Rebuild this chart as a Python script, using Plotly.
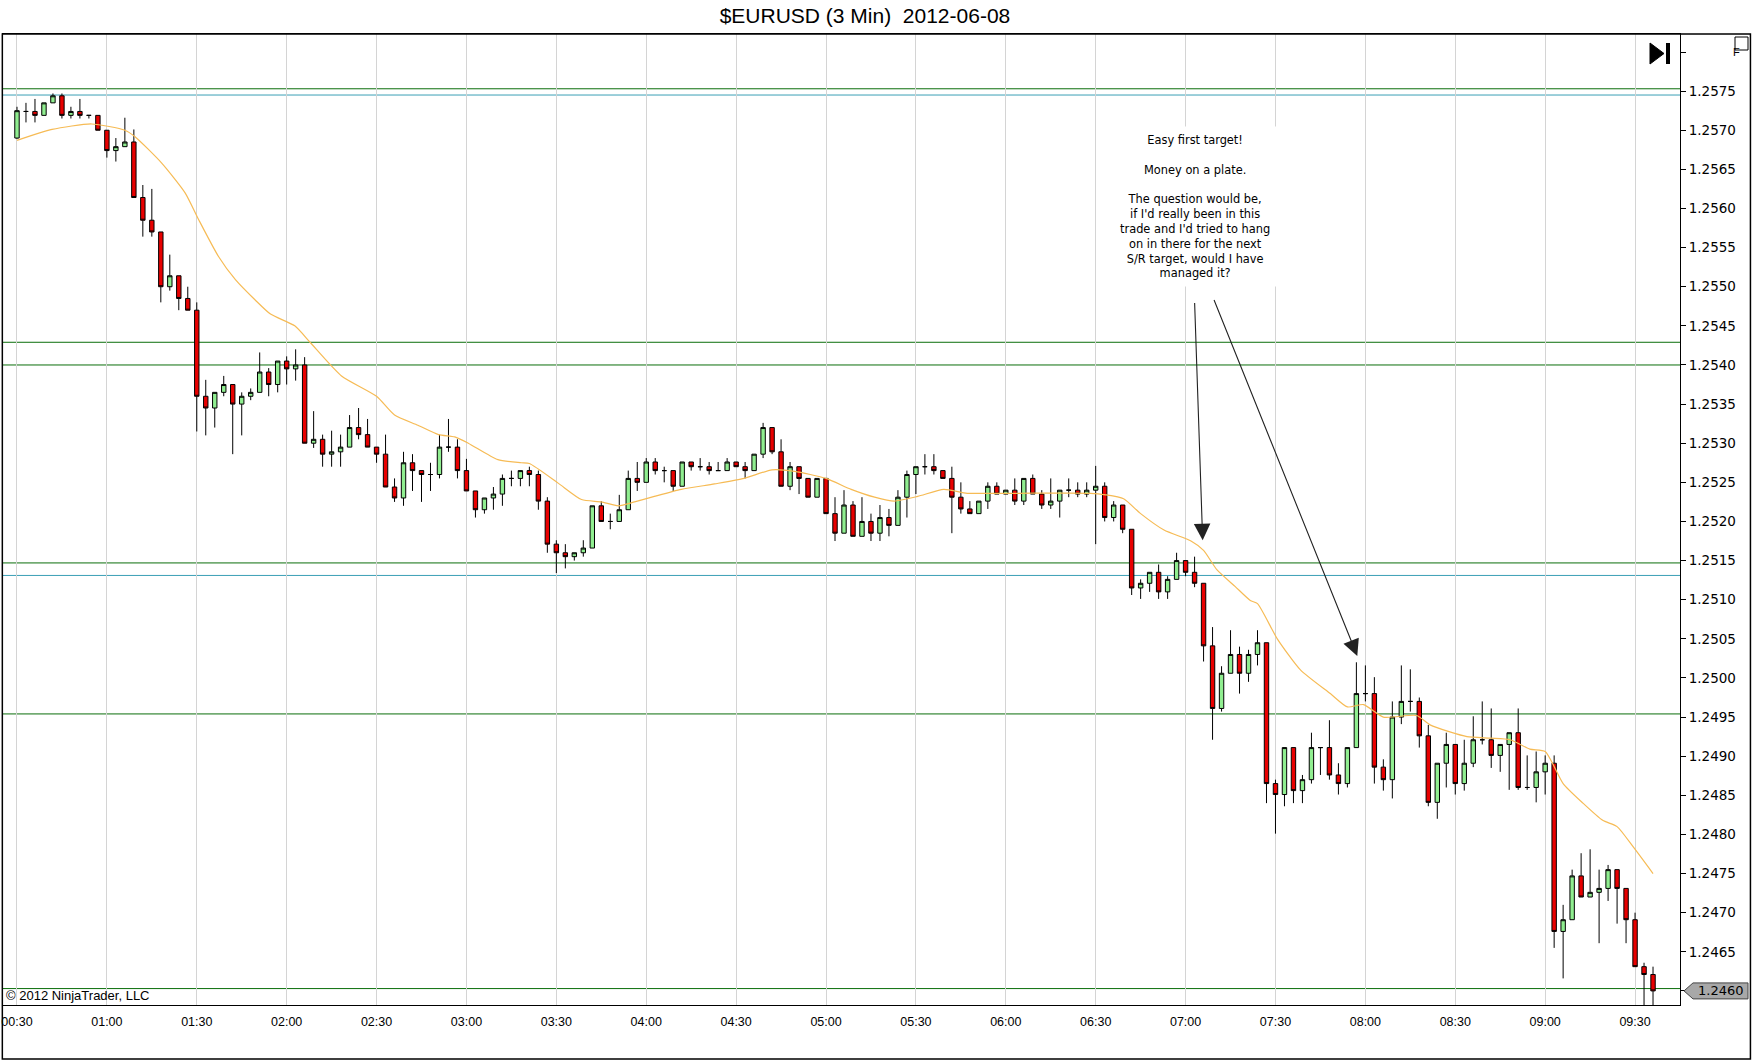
import pandas as pd
import plotly.graph_objects as go

# $EURUSD 3 min bars, 2012-06-08, starting 00:30
start_time = "2012-06-08 00:30"

opens = [1.25690, 1.25724, 1.25724, 1.25719, 1.25735, 1.25744, 1.25719, 1.25724, 1.25719, 1.25719,
         1.25700, 1.25674, 1.25679, 1.25685, 1.25614, 1.25585, 1.25570, 1.25500, 1.25514, 1.25485,
         1.25470, 1.25360, 1.25345, 1.25365, 1.25375, 1.25350, 1.25360, 1.25365, 1.25391, 1.25375,
         1.25405, 1.25395, 1.25400, 1.25300, 1.25305, 1.25286, 1.25289, 1.25295, 1.25320, 1.25311,
         1.25295, 1.25286, 1.25244, 1.25230, 1.25275, 1.25265, 1.25260, 1.25260, 1.25295, 1.25295,
         1.25265, 1.25239, 1.25215, 1.25230, 1.25235, 1.25255, 1.25255, 1.25265, 1.25260, 1.25226,
         1.25171, 1.25160, 1.25155, 1.25160, 1.25166, 1.25220, 1.25200, 1.25200, 1.25215, 1.25255,
         1.25250, 1.25276, 1.25265, 1.25265, 1.25245, 1.25276, 1.25270, 1.25270, 1.25265, 1.25265,
         1.25276, 1.25270, 1.25265, 1.25286, 1.25320, 1.25289, 1.25245, 1.25270, 1.25255, 1.25231,
         1.25255, 1.25210, 1.25185, 1.25221, 1.25181, 1.25200, 1.25185, 1.25205, 1.25195, 1.25231,
         1.25260, 1.25270, 1.25270, 1.25265, 1.25255, 1.25231, 1.25216, 1.25210, 1.25226, 1.25245,
         1.25235, 1.25240, 1.25226, 1.25255, 1.25235, 1.25221, 1.25226, 1.25240, 1.25240, 1.25235,
         1.25240, 1.25245, 1.25205, 1.25221, 1.25190, 1.25115, 1.25121, 1.25135, 1.25110, 1.25126,
         1.25150, 1.25135, 1.25121, 1.25041, 1.24961, 1.25006, 1.25030, 1.25006, 1.25030, 1.25045,
         1.24865, 1.24851, 1.24911, 1.24856, 1.24870, 1.24911, 1.24911, 1.24876, 1.24865, 1.24911,
         1.24980, 1.24980, 1.24886, 1.24870, 1.24950, 1.24970, 1.24970, 1.24926, 1.24841, 1.24891,
         1.24915, 1.24865, 1.24891, 1.24921, 1.24921, 1.24901, 1.24915, 1.24930, 1.24860, 1.24860,
         1.24880, 1.24891, 1.24676, 1.24691, 1.24747, 1.24720, 1.24726, 1.24731, 1.24755, 1.24731,
         1.24691, 1.24631, 1.24621]

highs = [1.25730, 1.25735, 1.25740, 1.25735, 1.25747, 1.25747, 1.25730, 1.25740, 1.25719, 1.25719,
         1.25700, 1.25690, 1.25716, 1.25701, 1.25630, 1.25625, 1.25570, 1.25541, 1.25514, 1.25500,
         1.25480, 1.25381, 1.25365, 1.25386, 1.25375, 1.25365, 1.25370, 1.25416, 1.25396, 1.25405,
         1.25411, 1.25420, 1.25410, 1.25341, 1.25311, 1.25316, 1.25311, 1.25336, 1.25345, 1.25331,
         1.25295, 1.25311, 1.25255, 1.25289, 1.25286, 1.25265, 1.25275, 1.25311, 1.25331, 1.25305,
         1.25280, 1.25239, 1.25230, 1.25244, 1.25260, 1.25265, 1.25265, 1.25270, 1.25265, 1.25231,
         1.25176, 1.25171, 1.25160, 1.25176, 1.25220, 1.25226, 1.25210, 1.25234, 1.25265, 1.25276,
         1.25281, 1.25281, 1.25270, 1.25265, 1.25276, 1.25276, 1.25281, 1.25276, 1.25276, 1.25281,
         1.25276, 1.25276, 1.25286, 1.25326, 1.25320, 1.25305, 1.25276, 1.25270, 1.25255, 1.25255,
         1.25255, 1.25231, 1.25240, 1.25226, 1.25231, 1.25210, 1.25221, 1.25216, 1.25240, 1.25265,
         1.25270, 1.25286, 1.25286, 1.25265, 1.25270, 1.25250, 1.25226, 1.25226, 1.25250, 1.25250,
         1.25240, 1.25255, 1.25255, 1.25260, 1.25240, 1.25255, 1.25240, 1.25255, 1.25250, 1.25250,
         1.25271, 1.25250, 1.25226, 1.25221, 1.25190, 1.25126, 1.25135, 1.25145, 1.25130, 1.25160,
         1.25150, 1.25155, 1.25121, 1.25065, 1.25015, 1.25061, 1.25040, 1.25036, 1.25061, 1.25045,
         1.24870, 1.24911, 1.24911, 1.24876, 1.24930, 1.24911, 1.24946, 1.24891, 1.24911, 1.25020,
         1.25016, 1.25001, 1.24896, 1.24970, 1.25016, 1.25011, 1.24975, 1.24940, 1.24891, 1.24930,
         1.24915, 1.24921, 1.24951, 1.24970, 1.24961, 1.24915, 1.24930, 1.24961, 1.24901, 1.24906,
         1.24901, 1.24901, 1.24710, 1.24755, 1.24776, 1.24781, 1.24755, 1.24761, 1.24755, 1.24731,
         1.24700, 1.24636, 1.24631]

lows = [1.25689, 1.25710, 1.25710, 1.25719, 1.25735, 1.25715, 1.25715, 1.25715, 1.25715, 1.25700,
        1.25665, 1.25660, 1.25679, 1.25614, 1.25564, 1.25564, 1.25480, 1.25495, 1.25470, 1.25470,
        1.25315, 1.25310, 1.25320, 1.25360, 1.25286, 1.25310, 1.25355, 1.25365, 1.25360, 1.25365,
        1.25375, 1.25380, 1.25300, 1.25294, 1.25270, 1.25270, 1.25270, 1.25295, 1.25305, 1.25295,
        1.25275, 1.25244, 1.25225, 1.25220, 1.25239, 1.25225, 1.25239, 1.25255, 1.25289, 1.25255,
        1.25239, 1.25205, 1.25210, 1.25215, 1.25220, 1.25245, 1.25245, 1.25245, 1.25215, 1.25160,
        1.25134, 1.25140, 1.25150, 1.25155, 1.25166, 1.25200, 1.25190, 1.25200, 1.25215, 1.25239,
        1.25250, 1.25260, 1.25250, 1.25239, 1.25245, 1.25265, 1.25265, 1.25260, 1.25265, 1.25265,
        1.25270, 1.25255, 1.25265, 1.25281, 1.25286, 1.25245, 1.25240, 1.25235, 1.25231, 1.25231,
        1.25210, 1.25175, 1.25185, 1.25181, 1.25181, 1.25175, 1.25175, 1.25181, 1.25195, 1.25205,
        1.25235, 1.25260, 1.25260, 1.25255, 1.25185, 1.25210, 1.25210, 1.25210, 1.25216, 1.25235,
        1.25235, 1.25221, 1.25221, 1.25235, 1.25216, 1.25216, 1.25205, 1.25231, 1.25231, 1.25231,
        1.25171, 1.25200, 1.25200, 1.25185, 1.25106, 1.25101, 1.25110, 1.25101, 1.25101, 1.25126,
        1.25130, 1.25116, 1.25021, 1.24921, 1.24957, 1.25006, 1.24980, 1.24995, 1.25016, 1.24840,
        1.24801, 1.24836, 1.24840, 1.24840, 1.24865, 1.24876, 1.24870, 1.24851, 1.24860, 1.24911,
        1.24970, 1.24865, 1.24856, 1.24846, 1.24941, 1.24957, 1.24911, 1.24836, 1.24820, 1.24860,
        1.24851, 1.24856, 1.24886, 1.24915, 1.24885, 1.24880, 1.24857, 1.24857, 1.24857, 1.24841,
        1.24851, 1.24655, 1.24616, 1.24691, 1.24720, 1.24720, 1.24661, 1.24715, 1.24686, 1.24661,
        1.24631, 1.24575, 1.24582]

closes = [1.25725, 1.25724, 1.25719, 1.25735, 1.25744, 1.25719, 1.25724, 1.25719, 1.25719, 1.25700,
          1.25674, 1.25679, 1.25685, 1.25614, 1.25585, 1.25570, 1.25500, 1.25514, 1.25485, 1.25470,
          1.25360, 1.25345, 1.25365, 1.25375, 1.25350, 1.25360, 1.25365, 1.25391, 1.25375, 1.25405,
          1.25395, 1.25400, 1.25300, 1.25305, 1.25286, 1.25289, 1.25295, 1.25320, 1.25311, 1.25295,
          1.25286, 1.25244, 1.25230, 1.25275, 1.25265, 1.25260, 1.25260, 1.25295, 1.25295, 1.25265,
          1.25239, 1.25215, 1.25230, 1.25235, 1.25255, 1.25255, 1.25265, 1.25260, 1.25226, 1.25171,
          1.25160, 1.25155, 1.25160, 1.25166, 1.25220, 1.25200, 1.25200, 1.25215, 1.25255, 1.25250,
          1.25276, 1.25265, 1.25265, 1.25245, 1.25276, 1.25270, 1.25270, 1.25265, 1.25265, 1.25276,
          1.25270, 1.25265, 1.25286, 1.25320, 1.25289, 1.25245, 1.25270, 1.25255, 1.25231, 1.25255,
          1.25210, 1.25185, 1.25221, 1.25181, 1.25200, 1.25185, 1.25205, 1.25195, 1.25231, 1.25260,
          1.25270, 1.25270, 1.25265, 1.25255, 1.25231, 1.25216, 1.25210, 1.25226, 1.25245, 1.25235,
          1.25240, 1.25226, 1.25255, 1.25235, 1.25221, 1.25226, 1.25240, 1.25240, 1.25235, 1.25240,
          1.25245, 1.25205, 1.25221, 1.25190, 1.25115, 1.25121, 1.25135, 1.25110, 1.25126, 1.25150,
          1.25135, 1.25121, 1.25041, 1.24961, 1.25006, 1.25030, 1.25006, 1.25030, 1.25045, 1.24865,
          1.24851, 1.24911, 1.24856, 1.24870, 1.24911, 1.24911, 1.24876, 1.24865, 1.24911, 1.24980,
          1.24980, 1.24886, 1.24870, 1.24950, 1.24970, 1.24970, 1.24926, 1.24841, 1.24891, 1.24915,
          1.24865, 1.24891, 1.24921, 1.24921, 1.24901, 1.24915, 1.24930, 1.24860, 1.24860, 1.24880,
          1.24891, 1.24676, 1.24691, 1.24747, 1.24720, 1.24726, 1.24731, 1.24755, 1.24731, 1.24691,
          1.24631, 1.24621, 1.24600]

# moving average (bar number, price)
ema_bar = [0, 3.9, 8.3, 12, 13.1, 16.1, 18.7, 20.2, 22.4, 24.3, 26.5, 28.2, 30.9, 32.6, 36.1, 40,
           42, 44.6, 46.9, 48.7, 50.2, 53.5, 56.1, 57, 60.2, 62.8, 65, 66.9, 68.7, 70.9, 73.9, 77.6,
           80.9, 84, 86.5, 90, 92.8, 95.4, 97.6, 100.2, 103.1, 105.7, 108.7, 111.3, 119.4, 121.1,
           123.1, 125, 127.6, 130.6, 132, 133.5, 135.5, 137.2, 138, 140.2, 142.8, 146.1, 148, 149.8,
           152, 155.7, 157.2, 159.4, 161.3, 163.9, 166.1, 168.3, 170, 172, 174.2, 176.4, 178, 179.8, 182]
ema_val = [1.25687, 1.25701, 1.25708, 1.25700, 1.25692, 1.25658, 1.25620, 1.25586, 1.25539, 1.25509,
           1.25483, 1.25465, 1.25450, 1.25429, 1.25386, 1.25360, 1.25336, 1.25323, 1.25311, 1.25308,
           1.25300, 1.25279, 1.25275, 1.25274, 1.25249, 1.25228, 1.25225, 1.25220, 1.25225, 1.25232,
           1.25241, 1.25248, 1.25255, 1.25266, 1.25264, 1.25255, 1.25241, 1.25231, 1.25226, 1.25232,
           1.25241, 1.25236, 1.25236, 1.25236, 1.25236, 1.25234, 1.25229, 1.25210, 1.25189, 1.25175,
           1.25163, 1.25138, 1.25117, 1.25099, 1.25095, 1.25050, 1.25010, 1.24980, 1.24963, 1.24966,
           1.24950, 1.24952, 1.24940, 1.24931, 1.24925, 1.24923, 1.24921, 1.24909, 1.24906, 1.24865,
           1.24840, 1.24818, 1.24810, 1.24784, 1.24750]

# support / resistance lines
sr_green = [1.25753, 1.25429, 1.25400, 1.25147, 1.24954, 1.24603]
sr_teal = [1.25745, 1.25131]

price_ticks = [1.2460, 1.2465, 1.2470, 1.2475, 1.2480, 1.2485, 1.2490, 1.2495, 1.2500, 1.2505,
               1.2510, 1.2515, 1.2520, 1.2525, 1.2530, 1.2535, 1.2540, 1.2545, 1.2550, 1.2555,
               1.2560, 1.2565, 1.2570, 1.2575, 1.2580]
last_price = 1.2460

note_lines = ["Easy first target!", "", "Money on a plate.", "",
              "The question would be,", "if I'd really been in this",
              "trade and I'd tried to hang", "on in there for the next",
              "S/R target, would I have", "managed it?"]

t0 = pd.Timestamp(start_time)
times = pd.date_range(start_time, periods=len(opens), freq="3min")


def bar_time(b):
    return t0 + pd.Timedelta(minutes=3 * b)


fig = go.Figure()

fig.add_trace(go.Candlestick(
    x=times, open=opens, high=highs, low=lows, close=closes,
    increasing=dict(line=dict(color="black", width=1), fillcolor="#90ee90"),
    decreasing=dict(line=dict(color="black", width=1), fillcolor="#e80000"),
    whiskerwidth=0, showlegend=False, hoverinfo="skip"))

fig.add_trace(go.Scatter(
    x=[bar_time(b) for b in ema_bar], y=ema_val, mode="lines",
    line=dict(color="#f6bb55", width=1.2, shape="spline", smoothing=0.6),
    showlegend=False, hoverinfo="skip"))

for p in sr_green:
    fig.add_shape(type="line", xref="paper", x0=0, x1=1, y0=p, y1=p,
                  line=dict(color="#0b6e0b", width=1), layer="below")
for p in sr_teal:
    fig.add_shape(type="line", xref="paper", x0=0, x1=1, y0=p, y1=p,
                  line=dict(color="#3a9fb5", width=1), layer="below")

# note + arrows
fig.add_annotation(x=bar_time(131.0), y=1.25603, xref="x", yref="y",
                   text="<br>".join(note_lines), showarrow=False,
                   font=dict(family="DejaVu Sans", size=11.4, color="black"),
                   align="center", bgcolor="white", borderpad=6)
fig.add_annotation(x=bar_time(131.9), y=1.25176, ax=bar_time(131.0), ay=1.25481,
                   xref="x", yref="y", axref="x", ayref="y", text="",
                   showarrow=True, arrowhead=2, arrowsize=3, arrowwidth=1.1, arrowcolor="#222")
fig.add_annotation(x=bar_time(149.1), y=1.25028, ax=bar_time(133.1), ay=1.25485,
                   xref="x", yref="y", axref="x", ayref="y", text="",
                   showarrow=True, arrowhead=2, arrowsize=3, arrowwidth=1.1, arrowcolor="#222")

fig.add_annotation(x=0, y=0, xref="paper", yref="paper", xanchor="left", yanchor="bottom",
                   text="© 2012 NinjaTrader, LLC", showarrow=False, xshift=1,
                   font=dict(family="Liberation Sans", size=13, color="black"))

# last price marker on the axis
fig.add_shape(type="path", xref="paper", yref="y", xsizemode="pixel", ysizemode="pixel",
              xanchor=1, yanchor=last_price,
              path="M 4,0 L 13,8 L 68,8 L 68,-8 L 13,-8 Z",
              fillcolor="#a8a8a8", line=dict(color="#444", width=1))
fig.add_annotation(x=1, y=last_price, xref="paper", yref="y", xanchor="center", xshift=41,
                   text=f"{last_price:.4f}", showarrow=False,
                   font=dict(family="DejaVu Sans", size=13, color="black"))

# "go to end" icon and F box
fig.add_shape(type="path", xref="paper", yref="paper", xsizemode="pixel", ysizemode="pixel",
              xanchor=1, yanchor=1, path="M -30,-9 L -16,-19.5 L -30,-30 Z",
              fillcolor="black", line=dict(color="black", width=1))
fig.add_shape(type="rect", xref="paper", yref="paper", xsizemode="pixel", ysizemode="pixel",
              xanchor=1, yanchor=1, x0=-14, x1=-10, y0=-9, y1=-30,
              fillcolor="black", line=dict(color="black", width=0))
fig.add_shape(type="rect", xref="paper", yref="paper", xsizemode="pixel", ysizemode="pixel",
              xanchor=1, yanchor=1, x0=55, x1=68, y0=-3, y1=-16,
              fillcolor="white", line=dict(color="black", width=1))
fig.add_annotation(x=1, y=1, xref="paper", yref="paper", xshift=61.5, yshift=-9.5,
                   text="F", showarrow=False,
                   font=dict(family="Liberation Sans", size=11, color="black"))

# outer frame
fig.add_shape(type="rect", xref="paper", yref="paper", x0=-0.0004, x1=1.0420, y0=-0.0556, y1=1,
              line=dict(color="black", width=1.5))

fig.update_layout(
    width=1752, height=1064,
    margin=dict(l=1, r=72, t=34, b=59),
    paper_bgcolor="white", plot_bgcolor="white",
    title=dict(text="$EURUSD (3 Min) \u00a02012-06-08", x=0.4937, xref="container",
               y=1 - 16 / 1064, yref="container", xanchor="center", yanchor="middle",
               font=dict(family="Liberation Sans", size=21, color="black")),
    xaxis=dict(type="date", range=[bar_time(-1.556), bar_time(185.0)],
               tick0=start_time, dtick=30 * 60 * 1000, tickformat="%H:%M",
               showgrid=True, gridcolor="#d4d4d4", gridwidth=1, zeroline=False,
               showline=True, linecolor="black", linewidth=1, mirror=True, ticks="",
               ticklabeloverflow="allow", ticklabelstandoff=5,
               rangeslider=dict(visible=False),
               tickfont=dict(family="Liberation Sans", size=12.5, color="black")),
    yaxis=dict(side="right", range=[1.24582, 1.25823], tickvals=price_ticks,
               ticktext=["" if v in (1.2460, 1.2580) else f"{v:.4f}" for v in price_ticks],
               showgrid=False, zeroline=False, showline=True, linecolor="black",
               linewidth=1, mirror=True, ticks="outside", ticklen=5, tickcolor="black",
               tickfont=dict(family="DejaVu Sans", size=13.5, color="black")),
    hovermode=False,
)

# page has a default body margin; drop it so the figure fills the window
fig.write_html("out.html", config={"displayModeBar": False},
               post_script="document.body.style.margin='0';document.body.style.overflow='hidden';")
